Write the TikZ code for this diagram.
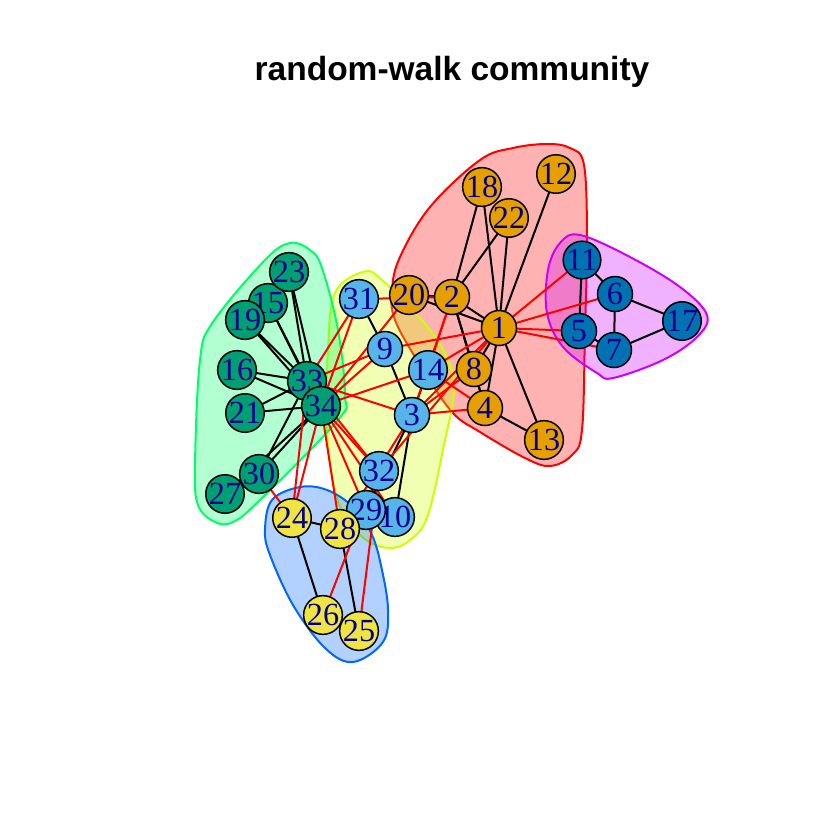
\documentclass[tikz,border=0pt]{standalone}
\usepackage{fontspec}
\setmainfont{Liberation Serif}
\newfontfamily\titlefont{Liberation Sans}
\definecolor{vorange}{HTML}{E69F00}
\definecolor{vsky}{HTML}{56B4E9}
\definecolor{vgreen}{HTML}{009E73}
\definecolor{vyellow}{HTML}{F0E442}
\definecolor{vblue}{HTML}{0072B2}
\definecolor{lab}{HTML}{00008B}
\definecolor{hred}{HTML}{FF0000}
\definecolor{hyel}{HTML}{CCFF00}
\definecolor{hgrn}{HTML}{00FF66}
\definecolor{hblu}{HTML}{0066FF}
\definecolor{hmag}{HTML}{CC00FF}
\tikzset{
  vtx/.style={circle, draw=black, line width=0.45mm, minimum size=10.5mm, inner sep=0pt,
    text=lab, font=\fontsize{27.5}{27.5}\selectfont},
  hull/.style={line width=0.6mm, fill opacity=0.3},
  intra/.style={black, line width=0.6mm},
  inter/.style={red, line width=0.6mm},
}
\begin{document}
\begin{tikzpicture}[x=0.3mm,y=-0.3mm]
\useasboundingbox (0,0) rectangle (840,840);
% hulls
\draw[hull, draw=hred, fill=hred] plot[smooth cycle, tension=0.6] coordinates {
 (547,144) (570,148) (584,165) (587,240) (585,330) (582,430) (572,455) (550,466) (525,458)
 (480,432) (452,412) (420,365) (395,320) (392,290) (400,257) (430,207) (480,160) (513,148)};
\draw[hull, draw=hyel, fill=hyel] plot[smooth cycle, tension=0.6] coordinates {
 (363,272) (382,280) (430,330) (452,370) (453,400) (445,440) (428,515) (410,540) (388,548)
 (360,535) (337,498) (327,430) (328,350) (335,293)};
\draw[hull, draw=hgrn, fill=hgrn] plot[smooth cycle, tension=0.6] coordinates {
 (290,243) (310,250) (322,268) (338,330) (345,395) (338,420) (260,500) (233,522) (215,522)
 (198,505) (195,465) (200,360) (213,322) (265,260)};
\draw[hull, draw=hblu, fill=hblu] plot[smooth cycle, tension=0.6] coordinates {
 (300,487) (327,490) (353,507) (372,535) (382,570) (388,610) (383,642) (353,662) (325,648)
 (293,605) (270,555) (265,530) (272,500)};
\draw[hull, draw=hmag, fill=hmag] plot[smooth cycle, tension=0.6] coordinates {
 (580,235) (630,257) (680,287) (707,315) (697,337) (663,360) (613,378) (597,373) (563,347)
 (547,313) (548,270) (560,243)};
% nodes (coordinates)
\foreach \n/\x/\y in {1/499/328,2/452/297,3/412/415,4/485/408,5/579/331,6/615/294,7/614/350,
 8/474/369,9/385/349,10/395/517,11/582/260,12/556/174,13/544/440,14/428/370,15/268/303,
 16/237/370,17/682/321,18/482/187,19/245/320,20/409/295,21/245/413,22/509/218,23/289/272,
 24/292/518,25/359/631,26/323/615,27/225/494,28/340/529,29/366/510,30/259/474,31/359/299,
 32/379/471,33/307/381,34/321/406}
  \coordinate (p\n) at (\x,\y);
% edges
\foreach \a/\b in {1/2,1/4,1/8,1/12,1/13,1/18,1/20,1/22,2/4,2/8,2/18,2/20,2/22,4/8,4/13,
 5/7,5/11,6/7,6/11,6/17,7/17,3/9,3/10,3/14,3/29,9/31,29/32,24/26,24/28,25/26,25/28,
 15/33,15/34,16/33,16/34,19/33,19/34,21/33,21/34,23/33,23/34,27/30,27/34,30/33,30/34,33/34}
  \draw[intra] (p\a) -- (p\b);
\foreach \a/\b in {1/3,1/5,1/6,1/7,1/9,1/11,1/14,1/32,2/3,2/14,2/31,3/4,3/8,3/28,3/33,4/14,
 9/33,9/34,10/34,14/34,20/34,24/30,24/33,24/34,25/32,26/32,28/34,29/34,31/33,31/34,32/33,32/34}
  \draw[inter] (p\a) -- (p\b);
% vertices
\foreach \n in {1,2,4,8,12,13,18,20,22} \node[vtx, fill=vorange] (v\n) at (p\n) {\n};
\foreach \n in {5,6,7,11,17} \node[vtx, fill=vblue] (v\n) at (p\n) {\n};
\foreach \n in {3,9,10,14,29,31,32} \node[vtx, fill=vsky] (v\n) at (p\n) {\n};
\foreach \n in {24,25,26,28} \node[vtx, fill=vyellow] (v\n) at (p\n) {\n};
\foreach \n in {15,16,19,21,23,27,30,33,34} \node[vtx, fill=vgreen] (v\n) at (p\n) {\n};
\node[anchor=base, font=\titlefont\bfseries\fontsize{28.6}{30}\selectfont] (title) at (452,80) {random-walk community};
\end{tikzpicture}
\end{document}
